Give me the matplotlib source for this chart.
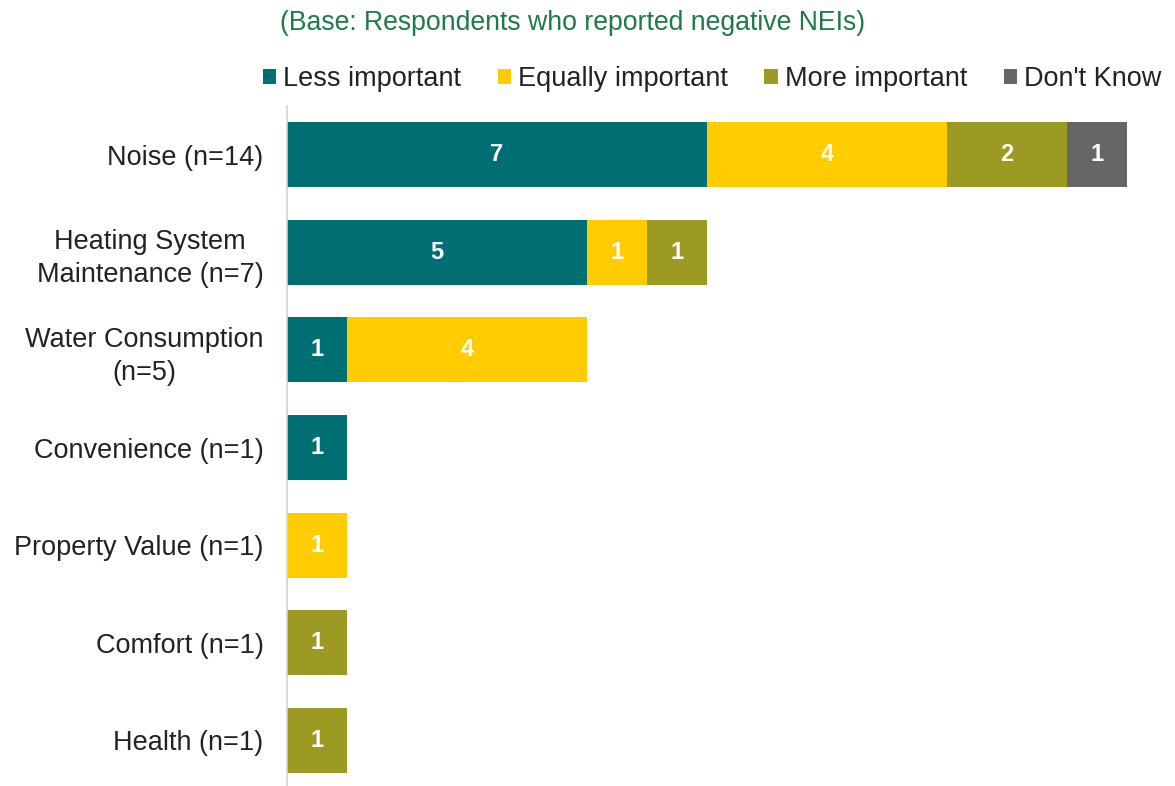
import matplotlib
matplotlib.use("Agg")
import matplotlib.pyplot as plt
from matplotlib.patches import Patch

plt.rcParams['font.family'] = ['Liberation Sans', 'DejaVu Sans']

categories = [
    "Noise (n=14)",
    "Heating System\nMaintenance (n=7)",
    "Water Consumption\n(n=5)",
    "Convenience (n=1)",
    "Property Value (n=1)",
    "Comfort (n=1)",
    "Health (n=1)",
]
series_names = ["Less important", "Equally important", "More important", "Don't Know"]
less_important = [7, 5, 1, 1, 0, 0, 0]
equally_important = [4, 1, 4, 0, 1, 0, 0]
more_important = [2, 1, 0, 0, 0, 1, 1]
dont_know = [1, 0, 0, 0, 0, 0, 0]

colors = ["#006F73", "#FFCC00", "#9C9A22", "#666666"]
series = [less_important, equally_important, more_important, dont_know]

fig = plt.figure(figsize=(11.75, 7.86), dpi=100)
ax = fig.add_axes([287 / 1175, -3 / 786, 888 / 1175, 683 / 786])

y = list(range(len(categories)))
left = [0] * len(categories)
for name, vals, col in zip(series_names, series, colors):
    ax.barh(y, vals, left=left, height=0.665, color=col, label=name)
    for yi, (l, v) in enumerate(zip(left, vals)):
        if v > 0:
            ax.text(l + v / 2, yi, str(v), ha="center", va="center",
                    color="white", fontsize=17, fontweight="bold")
    left = [a + b for a, b in zip(left, vals)]

ax.set_xlim(0, 14.8)
ax.set_ylim(6.5, -0.5)
ax.set_yticks(y)
ax.set_yticklabels(categories, fontsize=19.5, color="#222222")
for lbl in ax.get_yticklabels():
    lbl.set_multialignment("center")
    lbl.set_linespacing(1.35)
ax.tick_params(axis="y", length=0, pad=17)
ax.set_xticks([])
for s in ["top", "right", "bottom"]:
    ax.spines[s].set_visible(False)
ax.spines["left"].set_color("#D3D3D3")
ax.spines["left"].set_linewidth(1.2)

handles = [Patch(facecolor=c, edgecolor="none") for c in colors]
fig.legend(handles, series_names, loc="center", bbox_to_anchor=(712 / 1175, 1 - 79 / 786),
           ncol=4, frameon=False, fontsize=19.5, handlelength=0.5, handleheight=0.5,
           handletextpad=0.25, columnspacing=1.35, labelcolor="#222222")

fig.text(573 / 1175, 1 - 23 / 786, "(Base: Respondents who reported negative NEIs)",
         ha="center", va="center", fontsize=19.2, color="#1E7A46")

fig.savefig("out.png", dpi=100)
